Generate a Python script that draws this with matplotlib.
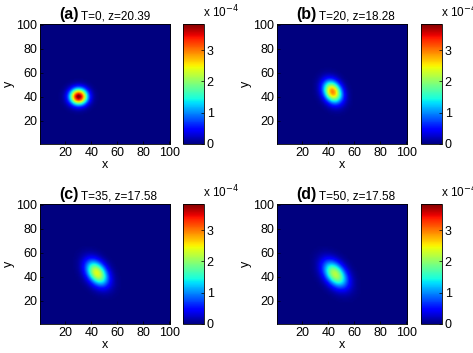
"""
Four snapshots of a Gaussian-like density on a 100x100 grid,
each drawn with a jet colour map and its own colour bar.
"""

import matplotlib
matplotlib.use("Agg")
import matplotlib.pyplot as plt
import numpy as np
from matplotlib.ticker import FuncFormatter

plt.rcParams['font.family'] = ['Liberation Sans', 'DejaVu Sans']

# panel labels and titles
labels = ['(a)', '(b)', '(c)', '(d)']
titles = ['T=0, z=20.39', 'T=20, z=18.28', 'T=35, z=17.58', 'T=50, z=17.58']

# blob parameters (one entry per panel)
centre_x = [30, 43, 44, 45]
centre_y = [40, 44, 43, 42]
peak = [3.85e-4, 2.95e-4, 2.4e-4, 2.2e-4]
sigma_major = [4.6, 6.5, 7.8, 8.4]
sigma_minor = [4.6, 4.6, 5.0, 5.2]
tilt_deg = [0, 112, 120, 123]

color_max = 3.83e-4
cbar_ticks = [0, 1e-4, 2e-4, 3e-4]
axis_ticks = [20, 40, 60, 80, 100]

W, H = 473, 353
# pixel boxes (left, top) for each image axes and colour bar
img_left = [40, 277, 40, 277]
img_top = [24, 24, 204, 204]
cbar_left = [183, 421, 183, 421]
img_w, img_h, cbar_w = 130, 120, 21


def density(i):
    xs = np.arange(1, 101)
    gx, gy = np.meshgrid(xs, xs)
    dx = gx - centre_x[i]
    dy = gy - centre_y[i]
    a = np.radians(tilt_deg[i])
    u = dx * np.cos(a) + dy * np.sin(a)
    v = -dx * np.sin(a) + dy * np.cos(a)
    return peak[i] * np.exp(-u**2 / (2 * sigma_major[i]**2) - v**2 / (2 * sigma_minor[i]**2))


def box(left, top, w, h):
    return [left / W, (H - top - h) / H, w / W, h / H]


fig = plt.figure(figsize=(W / 100, H / 100), dpi=100)

for i in range(4):
    ax = fig.add_axes(box(img_left[i], img_top[i], img_w, img_h))
    im = ax.imshow(density(i), origin='lower', extent=(0.5, 100.5, 0.5, 100.5),
                   cmap='jet', vmin=0, vmax=color_max, aspect='auto',
                   interpolation='bilinear')
    ax.set_xticks(axis_ticks)
    ax.set_yticks(axis_ticks)
    ax.tick_params(direction='in', length=2, width=0.5, labelsize=9, pad=2)
    ax.set_xlabel('x', fontsize=9, labelpad=0)
    ax.set_ylabel('y', fontsize=9, labelpad=1)
    for s in ax.spines.values():
        s.set_linewidth(0.6)

    t = ax.text(0.145, 1.04, labels[i], transform=ax.transAxes,
                fontsize=11.5, fontweight='bold', ha='left', va='baseline')
    ax.annotate(' ' + titles[i], xy=(1, 0), xycoords=t, fontsize=8.5,
                ha='left', va='bottom')

    cax = fig.add_axes(box(cbar_left[i], img_top[i], cbar_w, img_h))
    cb = fig.colorbar(im, cax=cax, ticks=cbar_ticks)
    cb.outline.set_linewidth(0.6)
    cb.ax.yaxis.set_major_formatter(FuncFormatter(lambda v, p: '%d' % round(v * 1e4)))
    cb.ax.tick_params(direction='in', length=2, width=0.5, labelsize=9, pad=2)
    cax.text(0.95, 1.03, r'x 10$^{-4}$', transform=cax.transAxes,
             fontsize=8.5, ha='left', va='bottom')

fig.savefig('out.png', dpi=100)
